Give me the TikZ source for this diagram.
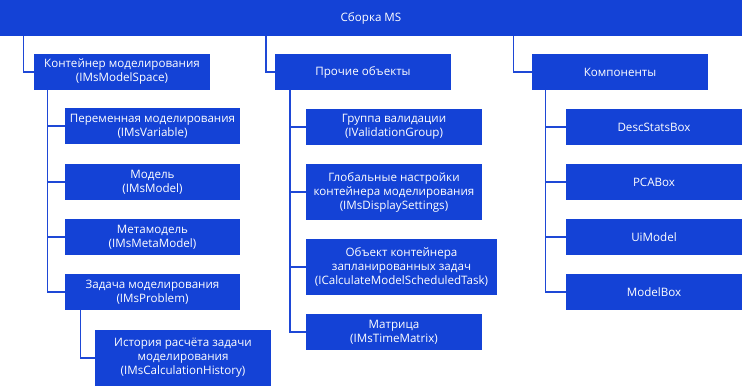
\documentclass[tikz,border=0pt]{standalone}
\usepackage{fontspec}
\setmainfont{Open Sans}
\begin{document}
\begin{tikzpicture}[x=1pt,y=-1pt,
  box/.style={fill=msblue,text=white,inner sep=0pt,align=center,
    font=\fontsize{11.6}{14}\selectfont},
  conn/.style={draw=msline,line width=1.3pt}]
\definecolor{msblue}{RGB}{20,66,214}
\definecolor{msline}{RGB}{30,72,214}
\useasboundingbox (0,0) rectangle (742,386);
\newcommand{\bx}[6]{\node[box,minimum width=#4pt,minimum height=#5pt] (#1) at (#2,#3) {#6};}
\bx{top}{371}{18}{742}{36}{Сборка MS}
\bx{c1}{122}{72}{176}{36}{Контейнер моделирования\\(IMsModelSpace)}
\bx{c2}{363}{72}{176}{36}{Прочие объекты}
\bx{c3}{620}{72}{176}{36}{Компоненты}
\bx{v1}{152.5}{126}{175}{36}{Переменная моделирования\\(IMsVariable)}
\bx{v2}{152.5}{182}{175}{36}{Модель\\(IMsModel)}
\bx{v3}{152.5}{237}{175}{36}{Метамодель\\(IMsMetaModel)}
\bx{v4}{152.5}{292}{175}{36}{Задача моделирования\\(IMsProblem)}
\bx{v5}{183}{358}{176}{56}{История расчёта задачи\\моделирования\\(IMsCalculationHistory)}
\bx{o1}{394}{127}{176}{36}{Группа валидации\\(IValidationGroup)}
\bx{o2}{394}{192}{176}{56}{Глобальные настройки\\контейнера моделирования\\(IMsDisplaySettings)}
\bx{o3}{401.5}{267}{191}{56}{Объект контейнера\\запланированных задач\\(ICalculateModelScheduledTask)}
\bx{o4}{394}{332}{176}{36}{Матрица\\(IMsTimeMatrix)}
\bx{k1}{654}{127}{176}{36}{DescStatsBox}
\bx{k2}{654}{182}{176}{36}{PCABox}
\bx{k3}{654}{237}{176}{36}{UiModel}
\bx{k4}{654}{292}{176}{36}{ModelBox}
\coordinate (t1) at (23.5,36);
\coordinate (t2) at (266,36);
\coordinate (t3) at (513.5,36);
\coordinate (b1) at (47.7,90);
\coordinate (b2) at (290,90);
\coordinate (b3) at (545.7,90);
\coordinate (b4) at (80.3,310);
\draw[conn] (t1) |- (c1.west);
\draw[conn] (t2) |- (c2.west);
\draw[conn] (t3) |- (c3.west);
\foreach \n in {v1,v2,v3,v4} \draw[conn] (b1) |- (\n.west);
\foreach \n in {o1,o2,o3,o4} \draw[conn] (b2) |- (\n.west);
\foreach \n in {k1,k2,k3,k4} \draw[conn] (b3) |- (\n.west);
\draw[conn] (b4) |- (v5.west);
\end{tikzpicture}
\end{document}
